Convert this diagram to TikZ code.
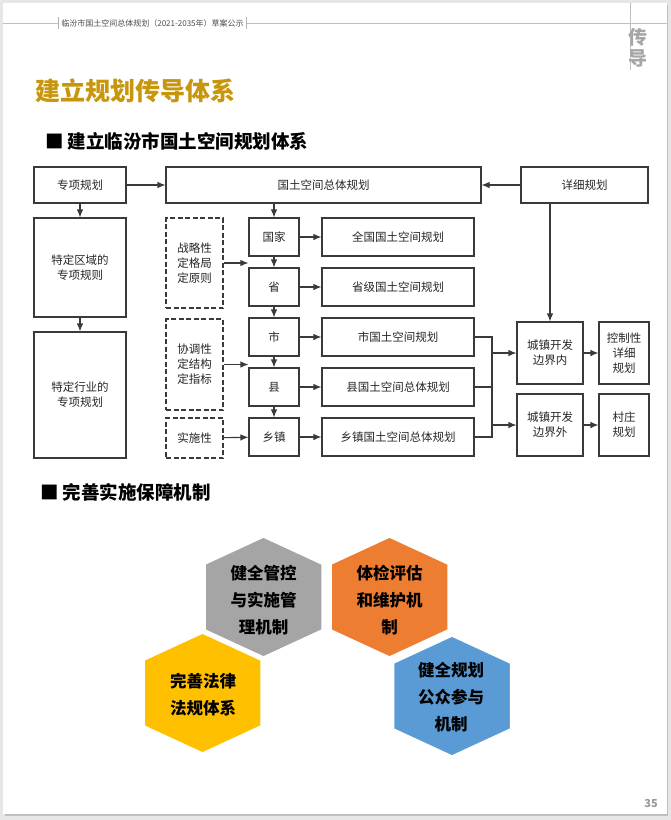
\documentclass[tikz,border=0pt]{standalone}
\usepackage{fontspec}
\setmainfont{Noto Sans CJK SC}
\newfontfamily\cjk{Noto Sans CJK SC}
\usetikzlibrary{arrows.meta}
\definecolor{linec}{HTML}{3A3A3A}
\definecolor{gold}{HTML}{C8960C}
\definecolor{hgray}{HTML}{A5A5A5}
\definecolor{horange}{HTML}{ED7D31}
\definecolor{hyellow}{HTML}{FFC000}
\definecolor{hblue}{HTML}{5B9BD5}
\definecolor{pagebg}{HTML}{E6E6E6}
\tikzset{
  box/.style={draw=linec, line width=1.1pt, fill=white, inner sep=1pt, align=center, font=\cjk\fontsize{11.5}{15}\selectfont, text=black!85},
  dbox/.style={box, dashed, dash pattern=on 5pt off 2.5pt},
  arr/.style={draw=linec, line width=1.1pt, -{Latex[length=8pt,width=6.5pt]}},
  ln/.style={draw=linec, line width=1.1pt},
  hextext/.style={align=center, font=\cjk\bfseries\fontsize{16.5}{27}\selectfont, text=black},
}
\newcommand{\hexat}[3]{%
  \filldraw[fill=#3, draw=white, line width=1.5pt, line join=miter] (#1,#2-60) -- (#1+58.5,#2-33) -- (#1+58.5,#2+33) -- (#1,#2+60) -- (#1-58.5,#2+33) -- (#1-58.5,#2-33) -- cycle;}
\begin{document}
\begin{tikzpicture}[x=1pt,y=-1pt]
\useasboundingbox (0,0) rectangle (671,820);
\fill[pagebg] (0,0) rectangle (671,820);
\fill[black!25] (5,5) rectangle (668,816);
\fill[white] (3,3) rectangle (667,814);
% header
\draw[black!25, line width=0.8pt] (3,23) -- (58,23);
\draw[black!25, line width=0.8pt] (246,23) -- (667,23);
\draw[black!30, line width=0.6pt] (58,17) -- (58,29) (246,17) -- (246,29);
\node[font=\cjk\fontsize{8}{10}\selectfont, text=black!70, inner sep=0pt] (hdr) at (152.5,23) {临汾市国土空间总体规划（2021-2035年）草案公示};
\draw[black!25, line width=0.8pt] (630,3) -- (630,70);
\node[font=\cjk\bfseries\fontsize{19}{21}\selectfont, text=black!35, align=center, inner sep=0pt] (side) at (638,48) {传\\导};
% titles
\node[anchor=west, font=\cjk\bfseries\fontsize{25}{28}\selectfont, text=gold, inner sep=0pt] (title) at (35,91) {建立规划传导体系};
\node[anchor=west, font=\cjk\bfseries\fontsize{18.5}{22}\selectfont, inner sep=0pt] (sub1) at (45,141) {■ 建立临汾市国土空间规划体系};
\node[anchor=west, font=\cjk\bfseries\fontsize{18.5}{22}\selectfont, inner sep=0pt] (sub2) at (40,492) {■ 完善实施保障机制};
% diagram boxes
\node[box, minimum width=92pt, minimum height=36pt] (zx) at (80,185) {专项规划};
\node[box, minimum width=315pt, minimum height=36pt] (gt) at (323.5,185) {国土空间总体规划};
\node[box, minimum width=127pt, minimum height=36pt] (xx) at (584.5,185) {详细规划};
\node[box, minimum width=92pt, minimum height=99pt] (tq) at (80,267.5) {特定区域的\\专项规则};
\node[box, minimum width=92pt, minimum height=126pt] (th) at (80,395) {特定行业的\\专项规划};
\node[dbox, minimum width=57pt, minimum height=90pt] (d1) at (194.5,263) {战略性\\定格局\\定原则};
\node[dbox, minimum width=57pt, minimum height=91pt] (d2) at (194.5,364.5) {协调性\\定结构\\定指标};
\node[dbox, minimum width=57pt, minimum height=40pt] (d3) at (194.5,438) {实施性};
\node[box, minimum width=50pt, minimum height=38pt] (l1) at (274,237) {国家};
\node[box, minimum width=50pt, minimum height=38pt] (l2) at (274,287) {省};
\node[box, minimum width=50pt, minimum height=38pt] (l3) at (274,337) {市};
\node[box, minimum width=50pt, minimum height=38pt] (l4) at (274,387) {县};
\node[box, minimum width=50pt, minimum height=38pt] (l5) at (274,437) {乡镇};
\node[box, minimum width=152pt, minimum height=38pt] (p1) at (398,237) {全国国土空间规划};
\node[box, minimum width=152pt, minimum height=38pt] (p2) at (398,287) {省级国土空间规划};
\node[box, minimum width=152pt, minimum height=38pt] (p3) at (398,337) {市国土空间规划};
\node[box, minimum width=152pt, minimum height=38pt] (p4) at (398,387) {县国土空间总体规划};
\node[box, minimum width=152pt, minimum height=38pt] (p5) at (398,437) {乡镇国土空间总体规划};
\node[box, minimum width=66pt, minimum height=62pt] (cn) at (550,353) {城镇开发\\边界内};
\node[box, minimum width=66pt, minimum height=62pt] (cw) at (550,425) {城镇开发\\边界外};
\node[box, minimum width=50pt, minimum height=62pt] (kz) at (624,353) {控制性\\详细\\规划};
\node[box, minimum width=50pt, minimum height=62pt] (cz) at (624,425) {村庄\\规划};
\coordinate (bx) at (492,0);
% connectors
\draw[arr] (zx) -- (gt);
\draw[arr] (xx) -- (gt);
\draw[arr] (zx) -- (tq);
\draw[arr] (tq) -- (th);
\draw[arr] (l1.north |- gt.south) -- (l1.north);
\draw[arr] (l1) -- (l2);
\draw[arr] (l2) -- (l3);
\draw[arr] (l3) -- (l4);
\draw[arr] (l4) -- (l5);
\draw[arr] (l1) -- (p1);
\draw[arr] (l2) -- (p2);
\draw[arr] (l3) -- (p3);
\draw[arr] (l4) -- (p4);
\draw[arr] (l5) -- (p5);
\draw[arr] (d1.east) -- (d1.east -| l1.west);
\draw[arr] (d2.east) -- (d2.east -| l4.west);
\draw[arr] (d3) -- (l5);
\draw[arr] (cn.north |- xx.south) -- (cn.north);
\draw[ln] (p3.east) -- (p3.east -| bx) -- (p5.east -| bx) -- (p5.east);
\draw[ln] (p4.east) -- (p4.east -| bx);
\draw[arr] (cn.west -| bx) -- (cn.west);
\draw[arr] (cw.west -| bx) -- (cw.west);
\draw[arr] (cn) -- (kz);
\draw[arr] (cw) -- (cz);
% hexagons
\hexat{263.5}{597}{hgray}
\hexat{389.5}{597}{horange}
\hexat{202.5}{693}{hyellow}
\hexat{452}{696}{hblue}
\node[hextext] (h1) at (263.5,600) {健全管控\\与实施管\\理机制};
\node[hextext] (h2) at (389.5,600) {体检评估\\和维护机\\制};
\node[hextext] (h3) at (203,695) {完善法律\\法规体系};
\node[hextext] (h4) at (451,697) {健全规划\\公众参与\\机制};
% page number
\node[font=\cjk\bfseries\fontsize{11}{12}\selectfont, text=black!40, inner sep=0pt] (pn) at (651,803) {35};
\end{tikzpicture}
\end{document}
